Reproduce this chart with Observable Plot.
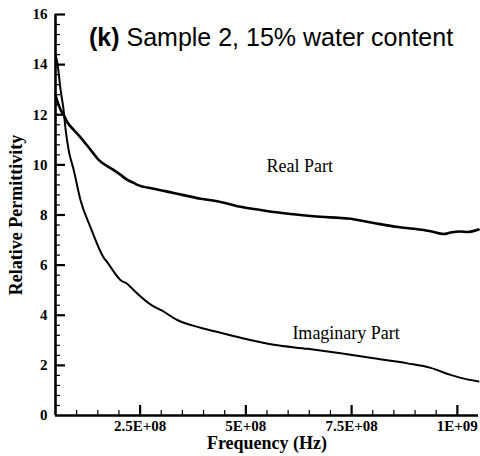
<!DOCTYPE html>
<html>
<head>
<meta charset="utf-8">
<script src="https://cdn.jsdelivr.net/npm/d3@7"></script>
<script src="https://cdn.jsdelivr.net/npm/@observablehq/plot@0.6"></script>
<style>
  html, body { margin: 0; padding: 0; background: #fff; }
  #chart svg { display: block; }
</style>
</head>
<body>
<div id="chart"></div>
<script>
// ---- data (frequency in Hz, relative permittivity) ----
const realFreq = [0.5e8, 0.55e8, 0.62e8, 0.69e8, 0.78e8, 0.93e8, 1.09e8, 1.33e8, 1.52e8, 1.87e8, 2.04e8, 2.2e8, 2.35e8, 2.44e8, 2.82e8, 3.29e8, 3.93e8, 4.4e8, 4.8e8, 5.35e8, 5.66e8, 6.29e8, 6.6e8, 7.24e8, 7.41e8, 8.02e8, 8.6e8, 8.97e8, 9.37e8, 9.68e8, 9.84e8, 10.08e8, 10.24e8, 10.5e8];
const realVal  = [12.8, 12.5, 12.2, 12.0, 11.7, 11.4, 11.1, 10.6, 10.2, 9.8, 9.6, 9.4, 9.28, 9.2, 9.05, 8.88, 8.65, 8.52, 8.35, 8.2, 8.12, 8.0, 7.95, 7.88, 7.86, 7.68, 7.52, 7.45, 7.35, 7.24, 7.3, 7.34, 7.32, 7.42];

const imagFreq = [0.5e8, 0.55e8, 0.62e8, 0.69e8, 0.74e8, 0.81e8, 0.93e8, 1.09e8, 1.33e8, 1.64e8, 1.73e8, 2.04e8, 2.2e8, 2.35e8, 2.82e8, 3.0e8, 3.39e8, 3.93e8, 4.4e8, 4.88e8, 5.66e8, 6.46e8, 7.24e8, 8.02e8, 8.82e8, 9.37e8, 9.84e8, 10.08e8, 10.5e8];
const imagVal  = [14.4, 14.0, 13.0, 12.2, 11.4, 10.6, 9.8, 8.6, 7.5, 6.3, 6.1, 5.4, 5.25, 5.0, 4.35, 4.2, 3.8, 3.5, 3.3, 3.1, 2.82, 2.66, 2.48, 2.28, 2.08, 1.9, 1.62, 1.5, 1.36];

const xMajorTicks = [2.5e8, 5e8, 7.5e8, 1e9];
const xTickLabels = ["2.5E+08", "5E+08", "7.5E+08", "1E+09"];
const xMinorTicks = [1e8, 1.5e8, 2e8, 3e8, 3.5e8, 4e8, 4.5e8, 5.5e8, 6e8, 6.5e8, 7e8, 8e8, 8.5e8, 9e8, 9.5e8];
const yTickValues = [0, 2, 4, 6, 8, 10, 12, 14, 16];
const yMinorTicks = [0.4, 0.8, 1.2, 1.6, 2.4, 2.8, 3.2, 3.6, 4.4, 4.8, 5.2, 5.6, 6.4, 6.8, 7.2, 7.6, 8.4, 8.8, 9.2, 9.6, 10.4, 10.8, 11.2, 11.6, 12.4, 12.8, 13.2, 13.6, 14.4, 14.8, 15.2, 15.6];

const labels = [
  {text: "Real Part", f: 5.49e8, v: 9.95},
  {text: "Imaginary Part", f: 6.1e8, v: 3.28}
];

// ---- layout ----
const W = 480, H = 456;
const mL = 55, mR = 2, mT = 14, mB = 41;
const frameW = W - mL - mR, frameH = H - mT - mB;

const realData = realFreq.map((f, i) => ({f, v: realVal[i]}));
const imagData = imagFreq.map((f, i) => ({f, v: imagVal[i]}));

const serif = "'Liberation Serif', 'Times New Roman', serif";

const svg = Plot.plot({
  width: W,
  height: H,
  marginLeft: mL,
  marginRight: mR,
  marginTop: mT,
  marginBottom: mB,
  style: {fontFamily: serif, fontSize: "15px", fontWeight: "bold", background: "white", color: "black", overflow: "visible"},
  x: {domain: [0.5e8, 10.5e8]},
  y: {domain: [0, 16]},
  marks: [
    Plot.axisX({ticks: xMajorTicks, tickSize: 0, tickPadding: 5, tickFormat: d => xTickLabels[xMajorTicks.indexOf(d)], label: null, fontSize: 15}),
    Plot.axisY({ticks: yTickValues, tickSize: 0, tickPadding: 8, tickFormat: d => String(d), label: null, fontSize: 15}),
    Plot.ruleX(xMajorTicks, {x: d => d, insetTop: frameH - 10, strokeWidth: 2.2}),
    Plot.ruleX(xMinorTicks, {x: d => d, insetTop: frameH - 5, strokeWidth: 1.2}),
    Plot.ruleY(yTickValues.filter(d => d > 0), {y: d => d, insetRight: frameW - 10, strokeWidth: 2.2}),
    Plot.ruleY(yMinorTicks, {y: d => d, insetRight: frameW - 5, strokeWidth: 1.2}),
    Plot.ruleY([0], {strokeWidth: 2.6}),
    Plot.ruleX([0.5e8], {strokeWidth: 2.6}),
    Plot.line(realData, {x: "f", y: "v", stroke: "black", strokeWidth: 2.6, curve: "monotone-x"}),
    Plot.line(imagData, {x: "f", y: "v", stroke: "black", strokeWidth: 2, curve: "monotone-x"}),
    Plot.text(labels, {x: "f", y: "v", text: "text", textAnchor: "start", fontFamily: serif, fontWeight: "normal", fontSize: 18}),
    Plot.text(["Frequency (Hz)"], {frameAnchor: "bottom", lineAnchor: "middle", textAnchor: "middle", dy: 28, fontFamily: serif, fontWeight: "bold", fontSize: 18}),
    Plot.text(["Relative Permittivity"], {frameAnchor: "left", textAnchor: "middle", lineAnchor: "middle", dx: -39, rotate: -90, fontFamily: serif, fontWeight: "bold", fontSize: 18})
  ]
});

const title = d3.select(svg).append("text")
  .attr("x", 89).attr("y", 46)
  .attr("text-anchor", "start")
  .attr("font-family", "'Liberation Sans', Arial, sans-serif")
  .attr("font-size", 25)
  .attr("font-weight", "normal")
  .attr("fill", "black");
title.append("tspan").attr("font-weight", "bold").text("(k)");
title.append("tspan").text(" Sample 2, 15% water content");

document.getElementById("chart").appendChild(svg);
</script>
</body>
</html>
